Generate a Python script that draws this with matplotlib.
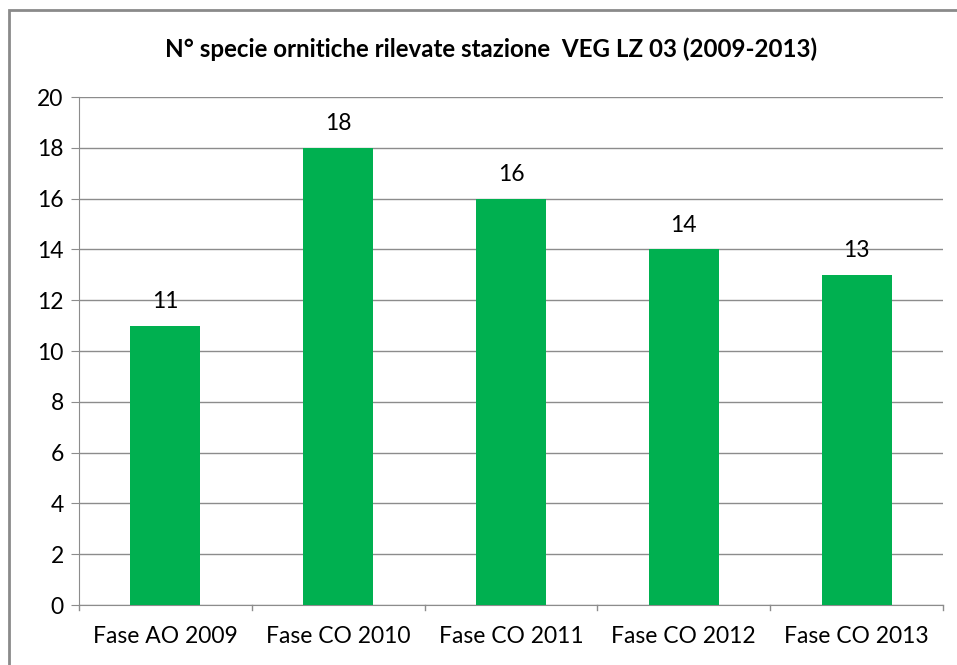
import matplotlib
matplotlib.use("Agg")
import matplotlib.pyplot as plt
from matplotlib.patches import Rectangle

categories = ["Fase AO 2009", "Fase CO 2010", "Fase CO 2011", "Fase CO 2012", "Fase CO 2013"]
values = [11, 18, 16, 14, 13]
yticks = [0, 2, 4, 6, 8, 10, 12, 14, 16, 18, 20]
title = "N° specie ornitiche rilevate stazione  VEG LZ 03 (2009-2013)"

plt.rcParams['font.family'] = ['Lato', 'DejaVu Sans']

W, H = 957, 665
fig = plt.figure(figsize=(W/100, H/100), dpi=100)
fig.patch.set_facecolor("white")

# outer chart border
fig.patches.append(Rectangle((9/W, -0.1), 1.2, 1 - 10/H + 0.1, transform=fig.transFigure,
                             fill=False, edgecolor="#8a8a8a", linewidth=2))

ax = fig.add_axes([79/W, 1-605/H, (943-79)/W, (605-97)/H])
x = list(range(len(categories)))
ax.bar(x, values, width=0.405, color="#00b050", zorder=3)
ax.set_xlim(-0.5, len(categories)-0.5)
ax.set_ylim(0, 20)
ax.set_yticks(yticks)
ax.set_yticklabels([str(t) for t in yticks], fontsize=16.5)
ax.yaxis.grid(True, color="#8c8c8c", linewidth=1, zorder=0)
ax.set_axisbelow(True)

ax.set_xticks(x)
ax.set_xticklabels(categories, fontsize=16.5)
ax.tick_params(axis='x', length=0, pad=15)
# boundary tick marks
for b in [i - 0.5 for i in range(len(categories)+1)]:
    ax.plot([b, b], [0, -0.18], color="#8c8c8c", linewidth=1, clip_on=False, zorder=4)
ax.tick_params(axis='y', length=6, color="#8c8c8c", pad=5)

for s in ["top", "right"]:
    ax.spines[s].set_visible(False)
ax.spines["left"].set_color("#8c8c8c")
ax.spines["bottom"].set_color("#8c8c8c")

for xi, v in zip(x, values):
    ax.annotate(str(v), (xi, v), xytext=(0, 10), textcoords="offset points",
                ha="center", va="bottom", fontsize=16.5)

fig.text(491/W, 1-49/H, title, ha="center", va="center",
         fontsize=17.4, fontweight="bold")

fig.savefig("out.png", dpi=100)
